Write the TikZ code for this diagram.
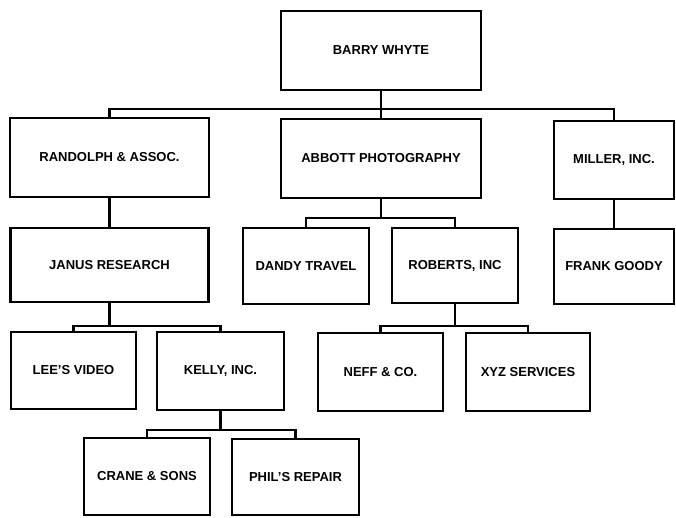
\documentclass[tikz,border=0pt]{standalone}
\usepackage{fontspec}
\setmainfont{Liberation Sans}
\usetikzlibrary{positioning}

\begin{document}
\begin{tikzpicture}[x=1pt, y=-1pt,
    box/.style={draw, line width=2.4pt, inner sep=0pt, minimum height=78pt,
        font=\bfseries\fontsize{13}{15}\selectfont},
    link/.style={line width=2.2pt}]
    \useasboundingbox (0,0) rectangle (676,517);

    % Top
    \node[box, minimum width=200pt, minimum height=79pt] (barry) at (381,50.5) {BARRY WHYTE};

    % Second row
    \node[box, minimum width=199pt, minimum height=79pt] (randolph) at (109.5,157.5) {RANDOLPH \& ASSOC.};
    \node[box, minimum width=200pt, minimum height=79pt] (abbott) at (381,158.5) {ABBOTT PHOTOGRAPHY};
    \node[box, minimum width=120pt] (miller) at (614,160) {MILLER, INC.};

    % Third row
    \node[box, minimum width=198pt, minimum height=74pt] (janus) at (109.5,265) {JANUS RESEARCH};
    \node[box, minimum width=126pt, minimum height=76pt] (dandy) at (306,266) {DANDY TRAVEL};
    \node[box, minimum width=126pt, minimum height=75pt] (roberts) at (455,265.5) {ROBERTS, INC};
    \node[box, minimum width=120pt, minimum height=75pt] (frank) at (614,266.5) {FRANK GOODY};

    % Fourth row
    \node[box, minimum width=125pt, minimum height=77pt] (lees) at (73.5,370.5) {LEE'S VIDEO};
    \node[box, minimum width=127pt] (kelly) at (220.5,371) {KELLY, INC.};
    \node[box, minimum width=125pt] (neff) at (380.5,372) {NEFF \& CO.};
    \node[box, minimum width=124pt] (xyz) at (528,372) {XYZ SERVICES};

    % Bottom row
    \node[box, minimum width=126pt, minimum height=77pt] (crane) at (147,476.5) {CRANE \& SONS};
    \node[box, minimum width=127pt, minimum height=76pt] (phil) at (295.5,477) {PHIL'S REPAIR};

    % Barry's lines
    \draw[link] (barry.south) -- ++(0,18) coordinate (bw);
    \draw[link] (randolph.north) |- (bw) -| (miller.north);
    \draw[link] (bw) -- (abbott.north);

    % Second row lines
    \draw[link] (randolph.south) -- (janus.north);
    \draw[link] (abbott.south) -- ++(0,19) coordinate (ab);
    \draw[link] (dandy.north) |- (ab) -| (roberts.north);
    \draw[link] (miller.south) -- (frank.north);

    % Third row lines
    \draw[link] (janus.south) -- ++(0,23) coordinate (ja);
    \draw[link] (lees.north) |- (ja) -| (kelly.north);
    \draw[link] (roberts.south) -- ++(0,22) coordinate (ro);
    \draw[link] (neff.north) |- (ro) -| (xyz.north);

    % Kelly's lines
    \draw[link] (kelly.south) -- ++(0,19) coordinate (ke);
    \draw[link] (crane.north) |- (ke) -| (phil.north);
\end{tikzpicture}
\end{document}
